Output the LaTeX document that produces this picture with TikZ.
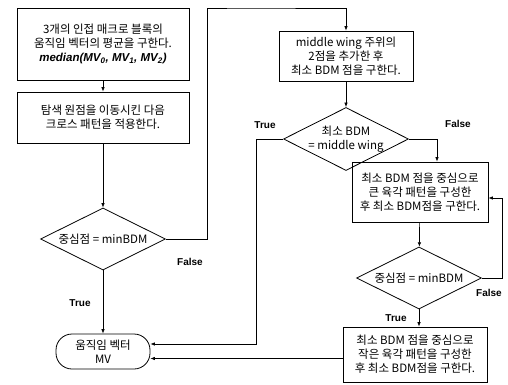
\documentclass[tikz,border=0pt]{standalone}
\usepackage{fontspec}
\setmainfont{Noto Sans CJK KR}
\newfontfamily\latfont{Liberation Sans}
\usetikzlibrary{shapes.geometric,arrows.meta}

\begin{document}
\begin{tikzpicture}[x=1pt,y=-1pt,font=\fontsize{11.5}{14}\selectfont]
				\tikzstyle{every node}=[align=center,inner sep=1pt]
				\tikzstyle{stepbox}=[draw,line width=0.8pt]
				\tikzstyle{testbox}=[draw,diamond,line width=0.8pt,inner sep=-3pt,aspect=2]
				\tikzstyle{endbox}=[draw,rounded corners=16pt,line width=0.8pt]
				\tikzstyle{lbl}=[font=\latfont\bfseries\fontsize{10}{12}\selectfont]
				\tikzstyle{arr}=[line width=0.7pt,-{Latex[length=4.5pt,width=3.5pt]}]
				\useasboundingbox (0,0) rectangle (508,385);
				% left column
				\node[stepbox,minimum width=172pt,minimum height=72pt] (mid) at (103,44)
					{3개의 인접 매크로 블록의\\움직임 벡터의 평균을 구한다.\\
					{\latfont\bfseries\itshape median(MV\textsubscript{0}, MV\textsubscript{1}, MV\textsubscript{2})}};
				\node[stepbox,minimum width=172pt,minimum height=51pt] (cross) at (103,117.5)
					{탐색 원점을 이동시킨 다음\\크로스 패턴을 적용한다.};
				\node[testbox,minimum width=125pt,minimum height=62pt] (ctr1) at (103,239) {중심점 = minBDM};
				\node[endbox,minimum width=94pt,minimum height=35pt] (mv) at (103,351.5) {움직임 벡터\\MV};
				% right column
				\node[stepbox,minimum width=134pt,minimum height=50pt] (wing) at (346,56)
					{middle wing 주위의\\2점을 추가한 후\\최소 BDM 점을 구한다.};
				\node[testbox,minimum width=125pt,minimum height=63pt] (mw) at (346,139) {최소 BDM\\= middle wing};
				\node[stepbox,minimum width=136pt,minimum height=60pt] (big) at (420,192)
					{최소 BDM 점을 중심으로\\큰 육각 패턴을 구성한\\후 최소 BDM점을 구한다.};
				\node[testbox,minimum width=125pt,minimum height=62pt] (ctr2) at (419,278) {중심점 = minBDM};
				\node[stepbox,minimum width=144pt,minimum height=55pt] (small) at (415,354.5)
					{최소 BDM 점을 중심으로\\작은 육각 패턴을 구성한\\후 최소 BDM점을 구한다.};
				\coordinate (mvup) at ([yshift=7.5pt]mv.east);
				\coordinate (mvlow) at ([yshift=-7pt]mv.east);
				% connectors
				\draw[arr] (mid) -- (cross);
				\draw[arr] (cross) -- (ctr1);
				\draw[arr] (ctr1) -- (mv);
				\draw[arr] (ctr1.east) -- ++(41,0) |- (246,8) -| (wing.north);
				\draw[arr] (wing) -- (mw);
				\draw[arr] (mw.west) -- ++(-27,0) |- (mvup);
				\draw[arr] (mw.east) -| ([xshift=17pt]big.north);
				\draw[arr] (big) -- (ctr2);
				\draw[arr] (ctr2.east) -- ++(20,0) |- ([yshift=-6pt]big.east);
				\draw[arr] (ctr2.south) -- (ctr2.south |- small.north);
				\draw[arr] (small.west |- mvlow) -- (mvlow);
				% labels
				\node[lbl] (f1) at (190,262) {False};
				\node[lbl] (t1) at (80,303) {True};
				\node[lbl] (t2) at (265,125) {True};
				\node[lbl] (f2) at (458,124) {False};
				\node[lbl] (f3) at (489,293) {False};
				\node[lbl] (t3) at (396,318) {True};
\end{tikzpicture}
\end{document}
